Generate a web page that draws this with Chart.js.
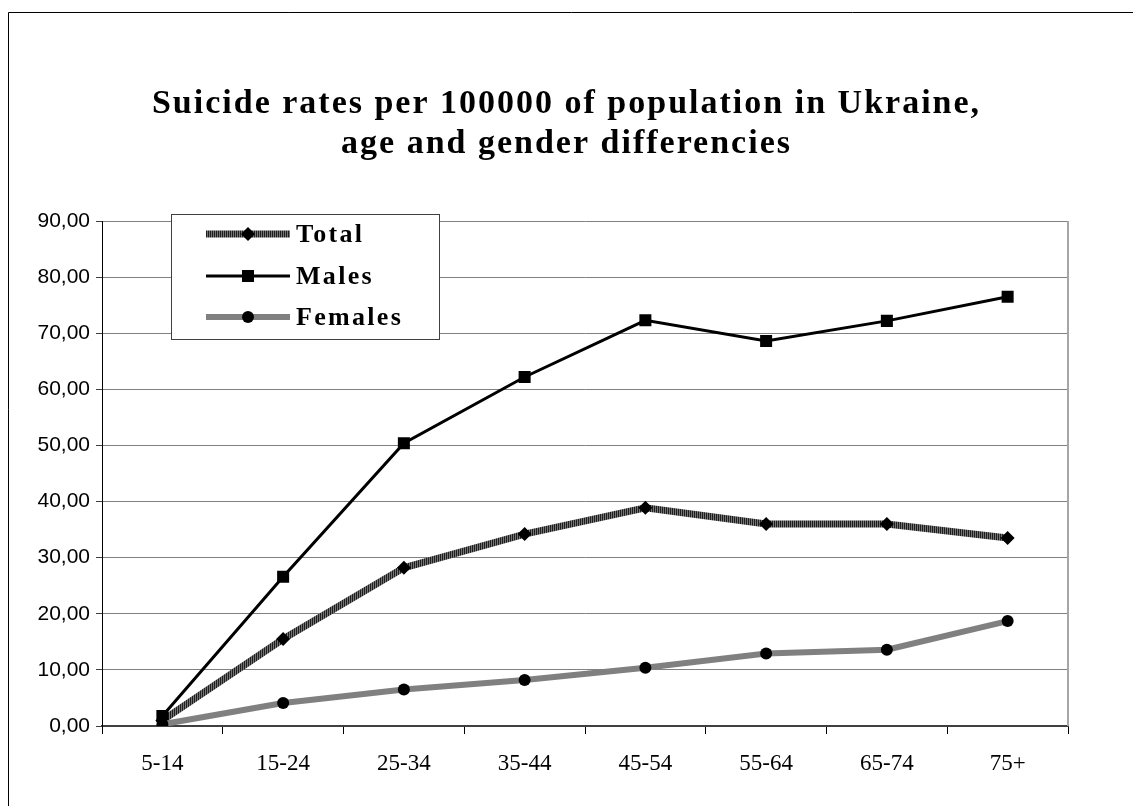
<!DOCTYPE html>
<html>
<head>
<meta charset="utf-8">
<script src="https://cdn.jsdelivr.net/npm/chart.js@4/dist/chart.umd.min.js"></script>
<style>
  html, body { margin: 0; padding: 0; background: #ffffff; }
  #wrap { width: 1133px; height: 806px; position: relative; }
  canvas { display: block; }
</style>
</head>
<body>
<div id="wrap"><canvas id="c" width="1133" height="806"></canvas></div>
<script>
// ---- data ----
const TITLE_LINES = ['Suicide rates per 100000 of population in Ukraine,', 'age and gender differencies'];
const CATEGORIES = ['5-14', '15-24', '25-34', '35-44', '45-54', '55-64', '65-74', '75+'];
const SERIES_NAMES = ['Total', 'Males', 'Females'];
const TOTAL = [1.0, 15.5, 28.2, 34.2, 38.9, 36.0, 36.0, 33.5];
const MALES = [1.8, 26.6, 50.4, 62.2, 72.3, 68.6, 72.2, 76.5];
const FEMALES = [0.3, 4.1, 6.5, 8.2, 10.4, 12.9, 13.6, 18.7];
const Y_TICK_LABELS = ['0,00', '10,00', '20,00', '30,00', '40,00', '50,00', '60,00', '70,00', '80,00', '90,00'];

// ---- styles ----
function stripePattern() {
  const pc = document.createElement('canvas');
  pc.width = 2; pc.height = 1;
  const p = pc.getContext('2d');
  p.fillStyle = '#1e1e1e'; p.fillRect(0, 0, 1, 1);
  p.fillStyle = '#747474'; p.fillRect(1, 0, 1, 1);
  return document.getElementById('c').getContext('2d').createPattern(pc, 'repeat');
}
const TOTAL_STROKE = stripePattern();

const frame = {
  id: 'frame',
  beforeDraw(chart) {
    const ctx = chart.ctx;
    ctx.save();
    ctx.fillStyle = '#ffffff';
    ctx.fillRect(0, 0, chart.width, chart.height);
    ctx.strokeStyle = '#000000';
    ctx.lineWidth = 1;
    ctx.beginPath();
    ctx.moveTo(8.5, chart.height + 2);
    ctx.lineTo(8.5, 12.5);
    ctx.lineTo(chart.width + 2, 12.5);
    ctx.stroke();
    ctx.restore();
    const tb = chart.titleBlock;
    if (tb && !tb._spaced) {
      const orig = tb.draw;
      tb.draw = function (area) {
        const c = this.ctx;
        c.save();
        c.letterSpacing = '2px';
        orig.call(this, area);
        c.restore();
      };
      tb._spaced = true;
    }
  },
  beforeDatasetsDraw(chart) {
    const ctx = chart.ctx, a = chart.chartArea;
    ctx.save();
    ctx.strokeStyle = '#a6a6a6';
    ctx.lineWidth = 2;
    ctx.beginPath();
    ctx.moveTo(a.right, a.top);
    ctx.lineTo(a.right, a.bottom);
    ctx.stroke();
    ctx.restore();
  }
};

function drawMarker(ctx, style, x, y, r) {
  ctx.beginPath();
  if (style === 'rect') {
    const s = r * Math.SQRT1_2;
    ctx.rect(x - s, y - s, 2 * s, 2 * s);
  } else if (style === 'rectRot') {
    ctx.moveTo(x, y - r); ctx.lineTo(x + r, y); ctx.lineTo(x, y + r); ctx.lineTo(x - r, y); ctx.closePath();
  } else {
    ctx.arc(x, y, r, 0, Math.PI * 2);
  }
  ctx.fill();
}

const boxLegend = {
  id: 'boxLegend',
  afterDatasetsDraw(chart) {
    const ctx = chart.ctx;
    const bx = 171, by = 214, bw = 268, bh = 125;
    ctx.save();
    ctx.fillStyle = '#ffffff';
    ctx.fillRect(bx, by, bw, bh);
    ctx.strokeStyle = '#404040';
    ctx.lineWidth = 1;
    ctx.strokeRect(bx + 0.5, by + 0.5, bw, bh);
    const rows = [234, 276, 317];
    chart.data.datasets.forEach((ds, i) => {
      const y = rows[i];
      ctx.strokeStyle = ds.borderColor;
      ctx.lineWidth = ds.borderWidth;
      ctx.lineCap = 'butt';
      ctx.beginPath();
      ctx.moveTo(206, y); ctx.lineTo(290, y);
      ctx.stroke();
      ctx.fillStyle = '#000000';
      drawMarker(ctx, ds.pointStyle, 248, y, ds.pointRadius);
      ctx.fillStyle = '#000000';
      ctx.font = 'bold 26px "Liberation Serif", "Times New Roman", serif';
      ctx.letterSpacing = '2.3px';
      ctx.textAlign = 'left';
      ctx.textBaseline = 'middle';
      ctx.fillText(ds.label, 296, y + 1);
    });
    ctx.restore();
  }
};

new Chart(document.getElementById('c'), {
  type: 'line',
  data: {
    labels: CATEGORIES,
    datasets: [
      {
        label: SERIES_NAMES[0], data: TOTAL,
        borderColor: TOTAL_STROKE, borderWidth: 7,
        pointStyle: 'rectRot', pointRadius: 7,
        pointBackgroundColor: '#000000', pointBorderColor: '#000000', pointBorderWidth: 0,
        tension: 0, order: 3
      },
      {
        label: SERIES_NAMES[1], data: MALES,
        borderColor: '#000000', borderWidth: 3,
        pointStyle: 'rect', pointRadius: 8.5,
        pointBackgroundColor: '#000000', pointBorderColor: '#000000', pointBorderWidth: 0,
        tension: 0, order: 2
      },
      {
        label: SERIES_NAMES[2], data: FEMALES,
        borderColor: '#808080', borderWidth: 6,
        pointStyle: 'circle', pointRadius: 6,
        pointBackgroundColor: '#000000', pointBorderColor: '#000000', pointBorderWidth: 0,
        tension: 0, order: 1
      }
    ]
  },
  options: {
    responsive: false,
    animation: false,
    devicePixelRatio: 1,
    layout: { padding: { top: 0, left: 10, right: 10, bottom: 0 } },
    plugins: {
      legend: { display: false },
      tooltip: { enabled: false },
      title: {
        display: true,
        text: TITLE_LINES,
        color: '#000000',
        font: { family: '"Liberation Serif", "Times New Roman", serif', size: 34, weight: 'bold', lineHeight: 40 / 34 },
        padding: { top: 84, bottom: 57 }
      }
    },
    scales: {
      x: {
        type: 'category',
        offset: true,
        grid: { display: true, drawOnChartArea: false, offset: true, drawTicks: true, tickLength: 8, tickColor: '#000000', lineWidth: 1 },
        border: { display: true, color: '#404040', width: 2 },
        ticks: { color: '#000000', padding: 16, font: { family: '"Liberation Serif", "Times New Roman", serif', size: 23 }, maxRotation: 0, autoSkip: false },
        afterFit(s) { s.height = 80; }
      },
      y: {
        position: 'left',
        min: 0, max: 90,
        ticks: {
          stepSize: 10, color: '#000000', padding: 6,
          font: { family: '"Liberation Sans", Arial, sans-serif', size: 21 },
          callback: (v, i) => Y_TICK_LABELS[i]
        },
        grid: { color: '#808080', lineWidth: 1, drawTicks: true, tickLength: 6, tickColor: '#404040' },
        border: { display: true, color: '#000000', width: 1 },
        afterFit(s) { s.width = 92; }
      },
      yR: {
        position: 'right',
        display: true,
        min: 0, max: 90,
        grid: { display: false, drawOnChartArea: false },
        border: { display: false },
        ticks: { display: false },
        afterFit(s) { s.width = 55; }
      }
    }
  },
  plugins: [frame, boxLegend]
});
</script>
</body>
</html>
